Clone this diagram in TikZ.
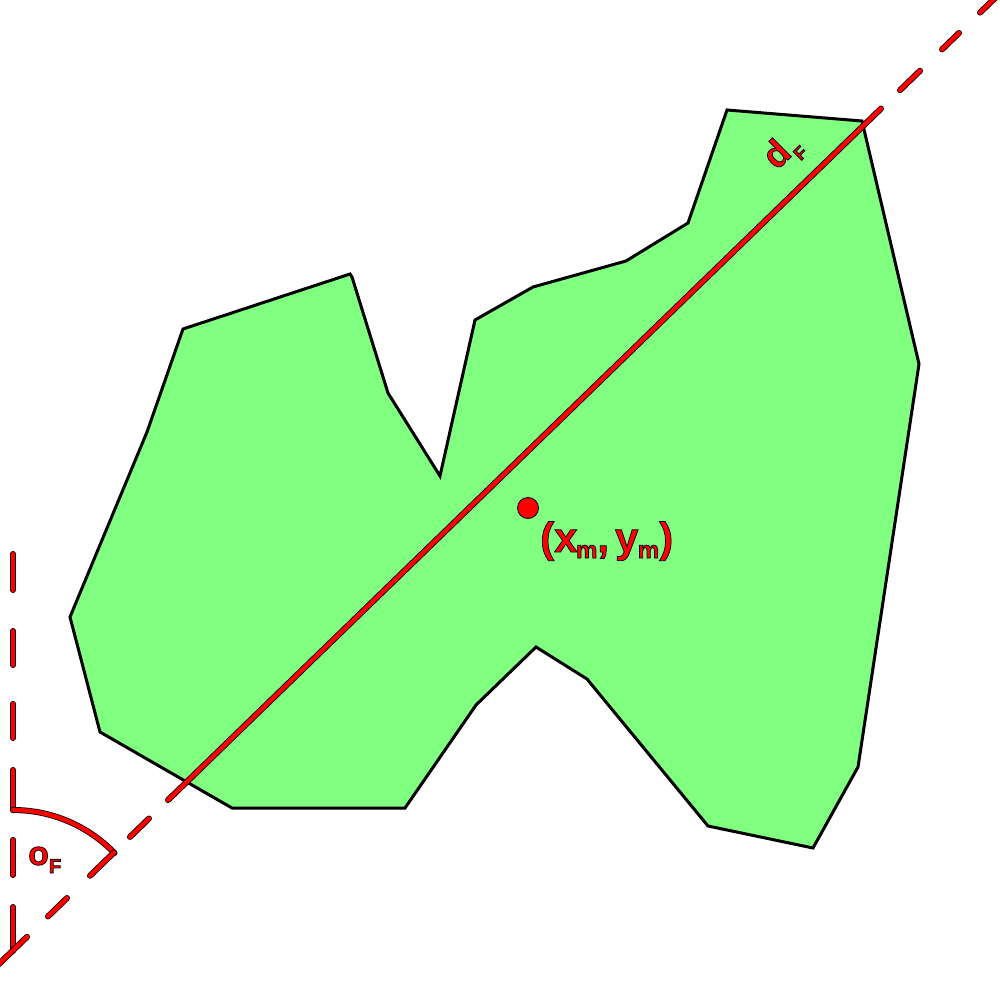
\documentclass[tikz,border=0pt]{standalone}
\usepackage{fontspec}
\setmainfont{Liberation Sans}
\definecolor{shapegreen}{RGB}{128,255,128}
% red text with a thin black edge: PDF text render mode 2 (fill + stroke)
\newcommand\outl[1]{\special{pdf:code 2 Tr 0.7 w 0 0 0 RG}#1\special{pdf:code 0 Tr}}
\tikzset{
  outline/.style={draw=black, line width=3pt, fill=shapegreen},
  redline/.style={draw=black, double=red, double distance=4.4pt, line width=0.8pt, line cap=round},
  lbl/.style={inner sep=0pt, text=red, font=\bfseries},
}
\begin{document}
\begin{tikzpicture}[x=1pt,y=-1pt]
\useasboundingbox (0,0) rectangle (1000,1000);
\clip (0,0) rectangle (1000,1000);
% shape
\draw[outline] (727,110) -- (862,121) -- (919,364) -- (858,767) -- (813,848) -- (708,826)
  -- (587,679) -- (536,647) -- (476,705) -- (405,808) -- (232,808) -- (100,732)
  -- (70,617) -- (147,432) -- (183,329) -- (350,274) -- (352,277) -- (388,393)
  -- (440,476) -- (475,320) -- (533,287) -- (626,261) -- (688,223) -- cycle;
% vertical reference line (dashed)
\coordinate (V) at (13,951);
\foreach \a/\b in {554/590, 631/665, 704/738, 770/810, 840/875, 907/951}
  \draw[redline] (13,\a) -- (13,\b);
% angle arc
\draw[redline] (13,810) arc[start angle=-90, end angle=-44, radius=141];
% diameter line: solid part
\coordinate (S1) at (168,{963-0.9698*168});
\coordinate (S2) at (881,{963-0.9698*881});
\draw[redline] (S1) -- (S2);
% dashed parts
\foreach \a/\b in {-10/27, 48/67, 90/114, 130/149, 900/920, 942/959, 980/1012}
  \draw[redline] (\a,{963-0.9698*(\a)}) -- (\b,{963-0.9698*(\b)});
% centroid
\node[circle, fill=red, draw=black, line width=0.8pt, minimum size=21pt, inner sep=0pt] (m) at (528,508) {};
% labels
\node[lbl, anchor=base west] (cm) at (540,552)
  {\fontsize{42}{42}\selectfont\outl{(x\kern-1.5pt\raisebox{-6pt}{\fontsize{24}{24}\selectfont m},\hspace{6pt}y\kern-0.5pt\raisebox{-6pt}{\fontsize{24}{24}\selectfont m})}};
\node[lbl, anchor=base west] (of) at (28,865)
  {\fontsize{34}{34}\selectfont\outl{o\raisebox{-8pt}{\fontsize{20}{20}\selectfont F}}};
\node[lbl, rotate=45, anchor=base west] (df) at (777,171)
  {\fontsize{37}{37}\selectfont\outl{d\kern1pt\raisebox{-10pt}{\fontsize{18}{18}\selectfont F}}};
\end{tikzpicture}
\end{document}
